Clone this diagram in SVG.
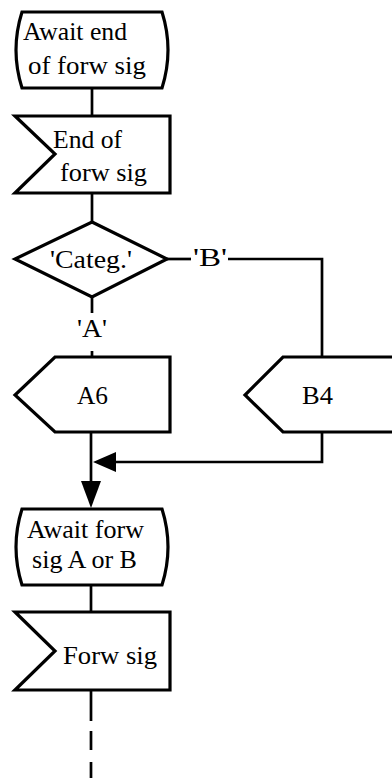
<svg xmlns="http://www.w3.org/2000/svg" width="392" height="778" viewBox="0 0 392 778">
<style>
.s{fill:#fff;stroke:#000;stroke-width:3.2;stroke-linejoin:miter}
.c{fill:none;stroke:#000;stroke-width:2.7}
.t{font-family:"Liberation Serif","Times New Roman",serif;font-size:26px;fill:#000}
</style>
<rect width="392" height="778" fill="#fff"/>
<g id="connectors">
<path class="c" d="M92,88V116"/>
<path class="c" d="M92,193V222"/>
<path class="c" d="M167,259H191"/>
<path class="c" d="M228,259H322V357"/>
<path class="c" d="M92,297V313"/>
<path class="c" d="M92,351V357"/>
<path class="c" d="M322,432V462H114"/>
<polygon points="93,462 116,452 116,472" fill="#000"/>
<path class="c" d="M91,432V483"/>
<polygon points="81,481 101,481 91,508" fill="#000"/>
<path class="c" d="M91,585V612"/>
<path class="c" d="M91,690V778" stroke-dasharray="31 10 19 12 20 10"/>
<text class="t" x="193" y="266" textLength="34" lengthAdjust="spacingAndGlyphs">'B'</text>
<text class="t" x="77" y="337" textLength="30" lengthAdjust="spacingAndGlyphs">'A'</text>
</g>
<g id="state1">
<path class="s" d="M22,12H162Q174,50 162,88H22Q10,50 22,12Z"/>
<text class="t" x="23" y="40" textLength="104" lengthAdjust="spacingAndGlyphs">Await end</text>
<text class="t" x="28" y="74" textLength="118" lengthAdjust="spacingAndGlyphs">of forw sig</text>
</g>
<g id="input1">
<polygon class="s" points="15,116 170,116 170,193 15,193 55,154"/>
<text class="t" x="53" y="148" textLength="69" lengthAdjust="spacingAndGlyphs">End of</text>
<text class="t" x="60" y="181" textLength="87" lengthAdjust="spacingAndGlyphs">forw sig</text>
</g>
<g id="decision">
<polygon class="s" points="92,222 167,259 92,297 15,259"/>
<text class="t" x="50" y="268" textLength="82" lengthAdjust="spacingAndGlyphs">'Categ.'</text>
</g>
<g id="outputA6">
<polygon class="s" points="55,357 170,357 170,432 55,432 15,395"/>
<text class="t" x="77" y="404" textLength="31" lengthAdjust="spacingAndGlyphs">A6</text>
</g>
<g id="outputB4">
<polygon class="s" points="283,357 400,357 400,432 283,432 245,395"/>
<text class="t" x="302" y="404" textLength="31" lengthAdjust="spacingAndGlyphs">B4</text>
</g>
<g id="state2">
<path class="s" d="M22,509H162Q174,547 162,585H22Q10,547 22,509Z"/>
<text class="t" x="27" y="538" textLength="117" lengthAdjust="spacingAndGlyphs">Await forw</text>
<text class="t" x="32" y="568" textLength="105" lengthAdjust="spacingAndGlyphs">sig A or B</text>
</g>
<g id="input2">
<polygon class="s" points="15,612 170,612 170,690 15,690 55,651"/>
<text class="t" x="63" y="664" textLength="94" lengthAdjust="spacingAndGlyphs">Forw sig</text>
</g>
</svg>
